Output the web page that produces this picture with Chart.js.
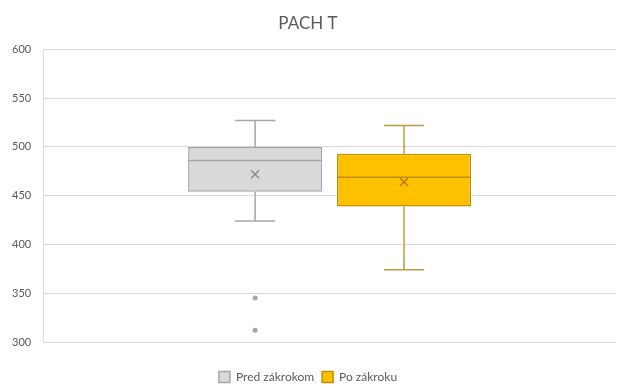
<!DOCTYPE html>
<html>
<head>
<meta charset="utf-8">
<script src="https://cdn.jsdelivr.net/npm/chart.js@4"></script>
<style>
  html, body { margin: 0; padding: 0; background: #fff; }
  #wrap { width: 622px; height: 388px; }
</style>
</head>
<body>
<div id="wrap"><canvas id="boxChart"></canvas></div>
<script>
  // box plot values per series
  const seriesNames = ['Pred zákrokom', 'Po zákroku'];
  const minVals = [424, 374];
  const q1Vals = [454, 439];
  const medianVals = [486, 469];
  const q3Vals = [500, 493];
  const maxVals = [527, 522];
  const meanVals = [472, 464];
  const outlierVals = [[345, 312], []];
  const yTicks = [300, 350, 400, 450, 500, 550, 600];

  const fills = ['#d9d9d9', '#ffc000'];
  const borders = ['#a6a6a6', '#bf9000'];
  const whiskerColors = ['#a6a6a6', '#bf9a40'];

  // whiskers, median, mean and outliers on top of the floating bars
  const boxExtras = {
    id: 'boxExtras',
    afterDatasetsDraw(chart) {
      const c = chart.ctx;
      const y = chart.scales.y;
      chart.data.datasets.forEach((ds, i) => {
        const bar = chart.getDatasetMeta(i).data[0];
        const x = bar.x, w = bar.width;
        const cap = w * 0.3;
        c.save();
        c.lineWidth = 1.5;
        c.strokeStyle = whiskerColors[i];
        c.beginPath();
        c.moveTo(x, y.getPixelForValue(q3Vals[i]));
        c.lineTo(x, y.getPixelForValue(maxVals[i]));
        c.moveTo(x - cap / 2, y.getPixelForValue(maxVals[i]));
        c.lineTo(x + cap / 2, y.getPixelForValue(maxVals[i]));
        c.moveTo(x, y.getPixelForValue(q1Vals[i]));
        c.lineTo(x, y.getPixelForValue(minVals[i]));
        c.moveTo(x - cap / 2, y.getPixelForValue(minVals[i]));
        c.lineTo(x + cap / 2, y.getPixelForValue(minVals[i]));
        c.stroke();

        // median
        c.strokeStyle = borders[i];
        c.lineWidth = 1.5;
        c.beginPath();
        c.moveTo(x - w / 2, y.getPixelForValue(medianVals[i]));
        c.lineTo(x + w / 2, y.getPixelForValue(medianVals[i]));
        c.stroke();

        // mean marker
        const my = y.getPixelForValue(meanVals[i]);
        const s = 4;
        c.strokeStyle = i === 0 ? '#8c8c8c' : '#c07800';
        c.lineWidth = 1.5;
        c.beginPath();
        c.moveTo(x - s, my - s); c.lineTo(x + s, my + s);
        c.moveTo(x + s, my - s); c.lineTo(x - s, my + s);
        c.stroke();

        // outliers
        c.fillStyle = '#a6a6a6';
        outlierVals[i].forEach(v => {
          c.beginPath();
          c.arc(x, y.getPixelForValue(v), 2.5, 0, Math.PI * 2);
          c.fill();
        });
        c.restore();
      });
    }
  };

  // trims the space under the legend so it sits lower
  const legendTrim = {
    id: 'legendTrim',
    beforeInit(chart) {
      const fit = chart.legend.fit;
      chart.legend.fit = function () {
        fit.call(this);
        this.height -= 5;
      };
    }
  };

  const ctx = document.getElementById('boxChart').getContext('2d');
  const boxChart = new Chart(ctx, {
    type: 'bar',
    data: {
      labels: ['1'],
      datasets: seriesNames.map((name, i) => ({
        label: name,
        data: [[q1Vals[i], q3Vals[i]]],
        backgroundColor: fills[i],
        borderColor: borders[i],
        borderWidth: 1.5,
        borderSkipped: false,
        barPercentage: 0.9,
        categoryPercentage: 0.52
      }))
    },
    options: {
      responsive: true,
      maintainAspectRatio: false,
      animation: false,
      layout: { padding: { left: 0, right: 6, top: 0, bottom: 0 } },
      plugins: {
        title: {
          display: true,
          text: 'PACH T',
          color: '#595959',
          font: { family: 'Lato', size: 17, weight: 'normal' },
          padding: { top: 13, bottom: 16 }
        },
        legend: {
          position: 'bottom',
          labels: {
            color: '#595959',
            font: { family: 'Lato', size: 12 },
            boxWidth: 11,
            boxHeight: 11,
            padding: 8
          }
        },
        tooltip: { enabled: false }
      },
      scales: {
        // hidden axis, only keeps a gap above the legend
        x: {
          display: true,
          grid: { display: false },
          border: { display: false },
          ticks: { display: false },
          afterFit: s => { s.height = 21; }
        },
        y: {
          min: 300,
          max: 600,
          afterBuildTicks: axis => { axis.ticks = yTicks.map(v => ({ value: v })); },
          grid: { color: '#d9d9d9', drawTicks: false },
          border: { color: '#d9d9d9' },
          ticks: {
            color: '#595959',
            font: { family: 'Lato', size: 11 },
            padding: 12
          }
        }
      }
    },
    plugins: [boxExtras, legendTrim]
  });
</script>
</body>
</html>
